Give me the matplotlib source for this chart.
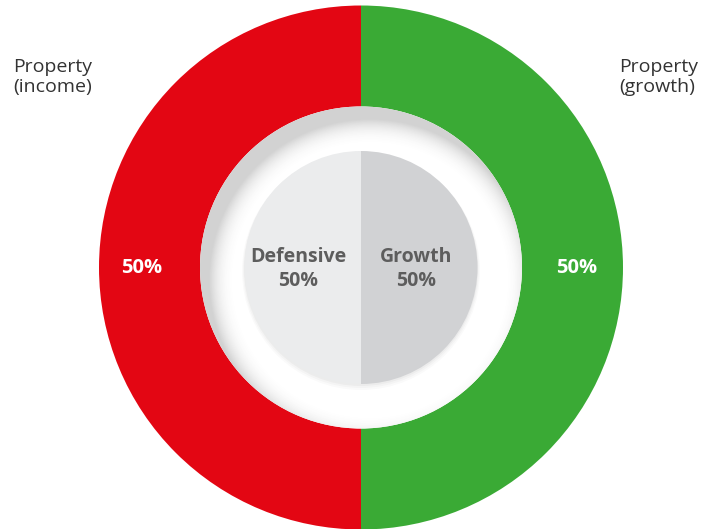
import numpy as np
import matplotlib
matplotlib.use("Agg")
import matplotlib.pyplot as plt
from matplotlib.patches import Circle

plt.rcParams['font.family'] = ['Open Sans', 'DejaVu Sans']

# Outer ring: property allocation
outer_labels = ["Property\n(income)", "Property\n(growth)"]
outer_values = [50, 50]
outer_colors = ["#e30613", "#3aaa35"]

# Inner pie: defensive vs growth
inner_labels = ["Defensive", "Growth"]
inner_values = [50, 50]
inner_colors = ["#ebeced", "#d1d2d4"]

W, H = 706, 529
fig = plt.figure(figsize=(W / 100, H / 100), dpi=100)
ax = fig.add_axes([0, 0, 1, 1])

cx, cy = 361, H - 267.5
R_out, R_hole, R_in = 262, 161, 116.5

# Outer donut
ax.pie(outer_values, colors=outer_colors, startangle=90, counterclock=True,
       radius=R_out, center=(cx, cy), frame=True,
       wedgeprops=dict(width=R_out - R_hole, linewidth=0))

# White hole with a soft inner shadow coming from the upper left
hole = Circle((cx, cy), R_hole, facecolor="white", edgecolor="none", zorder=2)
ax.add_patch(hole)
n = 500
xs = np.linspace(cx - R_hole, cx + R_hole, n)
ys = np.linspace(cy - R_hole, cy + R_hole, n)
X, Y = np.meshgrid(xs, ys)
ox, oy = 9, -13
d = np.hypot(X - (cx + ox), Y - (cy + oy))
w = 28
a = np.clip((d - (R_hole - w)) / w, 0, 1) ** 2.5 * 0.25
rgba = np.zeros((n, n, 4))
rgba[..., :3] = 0.3
rgba[..., 3] = a
im = ax.imshow(rgba, extent=(cx - R_hole, cx + R_hole, cy - R_hole, cy + R_hole),
               origin="lower", zorder=3, interpolation="bilinear")
im.set_clip_path(hole)

# Faint drop shadow below inner pie
for k, al in enumerate([0.03, 0.025, 0.02]):
    ax.add_patch(Circle((cx, cy - 1.5 - k), R_in + 0.5 + k, facecolor="black",
                        edgecolor="none", alpha=al, zorder=4))

# Inner pie
wedges, _ = ax.pie(inner_values, colors=inner_colors, startangle=90,
                   counterclock=True, radius=R_in, center=(cx, cy), frame=True,
                   wedgeprops=dict(linewidth=0))
for wdg in wedges:
    wdg.set_zorder(5)
ax.set_xlim(0, W)
ax.set_ylim(0, H)
ax.set_aspect("equal")
ax.axis("off")

# Outer value labels
ax.text(142, H - 268, f"{outer_values[0]}%", color="white", fontsize=14.5,
        fontweight="bold", ha="center", va="center", zorder=6)
ax.text(577, H - 268, f"{outer_values[1]}%", color="white", fontsize=14.5,
        fontweight="bold", ha="center", va="center", zorder=6)

# Inner labels
ax.text(298, H - 269, f"{inner_labels[0]}\n{inner_values[0]}%", color="#5d5d5d",
        fontsize=14, fontweight="bold", ha="center", va="center",
        linespacing=1.33, zorder=6)
ax.text(416, H - 269, f"{inner_labels[1]}\n{inner_values[1]}%", color="#5d5d5d",
        fontsize=14, fontweight="bold", ha="center", va="center",
        linespacing=1.33, zorder=6)

# Category labels outside the ring
ax.text(13, H - 77, outer_labels[0], color="#333333", fontsize=14,
        ha="left", va="center", linespacing=1.17)
ax.text(698, H - 77, outer_labels[1], color="#333333", fontsize=14,
        ha="right", va="center", multialignment="left", linespacing=1.17)

fig.savefig("out.png", dpi=100)
